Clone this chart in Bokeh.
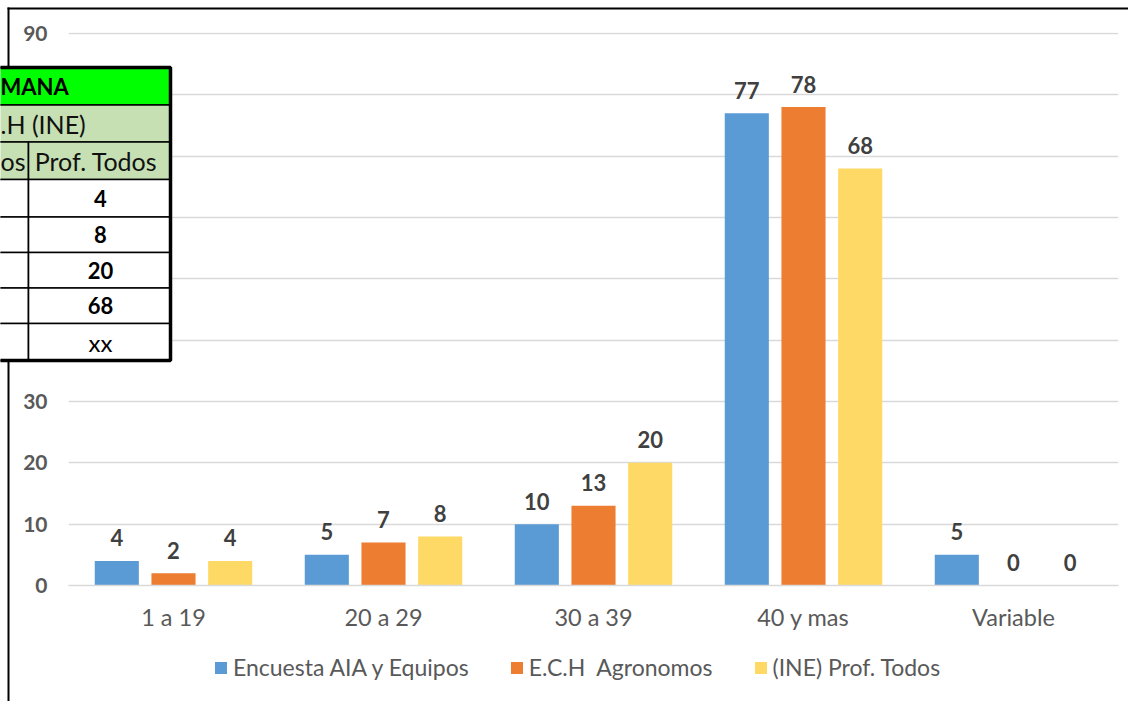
from bokeh.plotting import figure
from bokeh.models import (FactorRange, Range1d, ColumnDataSource, Legend, LegendItem,
                          FixedTicker)
from bokeh.transform import dodge
from bokeh.embed import file_html
from bokeh.resources import INLINE
from bokeh.core.properties import value

# ---------------- data ----------------
categories = ["1 a 19", "20 a 29", "30 a 39", "40 y mas", "Variable"]
series_names = ["Encuesta AIA y Equipos", "E.C.H  Agronomos", "(INE) Prof. Todos"]
encuesta = [4, 5, 10, 77, 5]
ech = [2, 7, 13, 78, 0]
ine = [4, 8, 20, 68, 0]
y_ticks = [0, 10, 20, 30, 40, 50, 60, 70, 80, 90]
covered_ticks = [40, 50, 60, 70, 80]  # hidden behind the pasted table

# pasted table (cut at the left edge of the picture)
table_title = "MANA"
table_subtitle = ".H  (INE)"
table_col_left = "os"
table_col_right = "Prof. Todos"
table_values = ["4", "8", "20", "68", "xx"]
table_bold = [True, True, True, True, False]

# ---------------- styles / layout ----------------
COLORS = ["#5B9BD5", "#ED7D31", "#FFD966"]
FONT = "Lato"
W, H = 1128, 701
FL, FR, FT, FB = 68, 10, 32, 116
OFFS = [-0.27, 0.0, 0.27]

p = figure(x_range=FactorRange(factors=categories, range_padding=0),
           y_range=Range1d(0, 90.16), width=W, height=H,
           output_backend="svg", toolbar_location=None,
           min_border_left=FL, min_border_right=FR,
           min_border_top=FT, min_border_bottom=FB)
p.outline_line_color = None
p.background_fill_color = "white"
p.border_fill_color = "white"

p.xgrid.grid_line_color = None
p.ygrid.grid_line_color = "#D9D9D9"
p.ygrid.grid_line_width = 1.3
p.yaxis.ticker = FixedTicker(ticks=y_ticks)
p.yaxis.major_label_overrides = {t: "" for t in covered_ticks}
p.yaxis.axis_line_color = None
p.yaxis.major_tick_line_color = None
p.yaxis.minor_tick_line_color = None
p.yaxis.major_tick_out = 0
p.yaxis.major_tick_in = 0
p.yaxis.major_label_standoff = 21
p.yaxis.major_label_text_font = FONT
p.yaxis.major_label_text_font_style = "bold"
p.yaxis.major_label_text_font_size = "21px"
p.yaxis.major_label_text_color = "#595959"

p.xaxis.axis_line_color = "#D9D9D9"
p.xaxis.axis_line_width = 1.3
p.xaxis.major_tick_line_color = None
p.xaxis.minor_tick_line_color = None
p.xaxis.major_tick_out = 0
p.xaxis.major_tick_in = 0
p.xaxis.major_label_standoff = 17
p.xaxis.major_label_text_font = FONT
p.xaxis.major_label_text_font_size = "23.5px"
p.xaxis.major_label_text_color = "#595959"

src = ColumnDataSource(dict(
    cat=categories, s0=encuesta, s1=ech, s2=ine,
    l0=[str(v) for v in encuesta], l1=[str(v) for v in ech], l2=[str(v) for v in ine]))

for i in range(3):
    p.vbar(x=dodge("cat", OFFS[i], range=p.x_range), top=f"s{i}", width=0.21,
           source=src, fill_color=COLORS[i], line_color=None)
    p.text(x=dodge("cat", OFFS[i], range=p.x_range), y=f"s{i}", text=f"l{i}", source=src,
           text_align="center", text_baseline="middle", y_offset=-23,
           text_font=value(FONT), text_font_style="bold", text_font_size="22px",
           text_color="#404040")

# ---------------- overlay: chart border, legend, pasted table (pixel coordinates) ----------------
ov = figure(width=W, height=H, x_range=Range1d(0, W), y_range=Range1d(H, 0),
            min_border=0, toolbar_location=None, output_backend="svg",
            x_axis_type=None, y_axis_type=None,
            styles={"position": "absolute", "top": "0px", "left": "0px", "z-index": "5"})
ov.outline_line_color = None
ov.background_fill_color = None
ov.border_fill_color = None
ov.xgrid.visible = False
ov.ygrid.visible = False

# black chart border (top and left)
ov.quad(left=[7, 7], right=[W, 9], top=[7, 7], bottom=[9, H],
        fill_color="black", line_color=None)

# legend swatches: zero-size bars in the bar colours (nothing visible in the plot area)
swatches = [ov.vbar(x=[0], top=[0], bottom=[0], width=0, fill_color=COLORS[i], line_color=None)
            for i in range(3)]
legend = Legend(items=[LegendItem(label=series_names[i], renderers=[swatches[i]]) for i in range(3)],
                orientation="horizontal", location=(213, 20))
legend.glyph_width = 15
legend.glyph_height = 15
legend.label_standoff = 5
legend.spacing = 40
legend.padding = 0
legend.margin = 0
legend.label_height = 26
legend.border_line_color = None
legend.background_fill_alpha = 0
legend.label_text_font = FONT
legend.label_text_font_size = "23px"
legend.label_text_color = "#595959"
ov.add_layout(legend)

rows = [67, 104.5, 141.5, 179, 216.5, 252, 287.5, 323, 360]
TL, DIV, TR = -20, 28, 170
cells = dict(l=[], r=[], t=[], b=[], c=[])


def cell(l, r, t, b, c):
    cells["l"].append(l); cells["r"].append(r); cells["t"].append(t)
    cells["b"].append(b); cells["c"].append(c)


cell(TL, TR, rows[0], rows[1], "#00FF00")
cell(TL, TR, rows[1], rows[2], "#C6E0B4")
cell(TL, DIV, rows[2], rows[3], "#C6E0B4")
cell(DIV, TR, rows[2], rows[3], "#C6E0B4")
for k in range(3, 8):
    cell(TL, DIV, rows[k], rows[k + 1], "white")
    cell(DIV, TR, rows[k], rows[k + 1], "white")
ov.quad(left="l", right="r", top="t", bottom="b", fill_color="c",
        line_color="black", line_width=1.6, source=ColumnDataSource(cells))
ov.quad(left=[TL], right=[TR], top=[rows[0]], bottom=[rows[-1]], fill_color=None,
        line_color="black", line_width=3.5)


def mid(k):
    return (rows[k] + rows[k + 1]) / 2


ov.text(x=[0], y=[mid(0)], text=[table_title], text_align="left", text_baseline="middle",
        text_font=value(FONT), text_font_style="bold", text_font_size="22px", text_color="black")
ov.text(x=[0, 0, 95.5], y=[mid(1), mid(2), mid(2)],
        text=[table_subtitle, table_col_left, table_col_right],
        text_align=["left", "left", "center"], text_baseline="middle",
        text_font=value(FONT), text_font_size="25px", text_color="#111111")
for k, (v, b) in enumerate(zip(table_values, table_bold)):
    ov.text(x=[100], y=[mid(3 + k)], text=[v], text_align="center", text_baseline="middle",
            text_font=value(FONT), text_font_style="bold" if b else "normal",
            text_font_size="22px" if b else "24px", text_color="black")

open("out.html", "w").write(file_html([p, ov], INLINE))
